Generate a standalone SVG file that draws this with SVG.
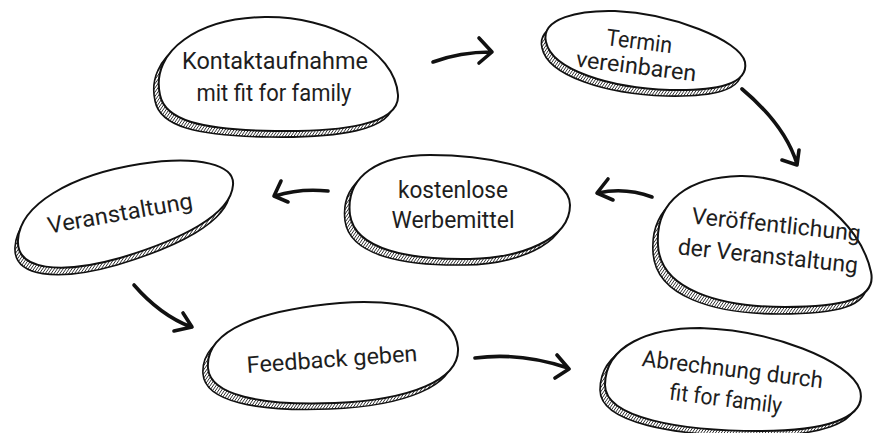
<svg xmlns="http://www.w3.org/2000/svg" width="877" height="433" viewBox="0 0 877 433">
<defs>
<pattern id="hatch" patternUnits="userSpaceOnUse" width="2.4" height="2.4" patternTransform="rotate(35)">
<rect width="2.4" height="2.4" fill="#fff"/>
<line x1="0" y1="0" x2="0" y2="2.4" stroke="#1c1c1c" stroke-width="1.5"/>
</pattern>
</defs>
<style>
.sh{fill:url(#hatch);stroke:#111;stroke-width:1.6}
.bd{fill:#fff;stroke:#111;stroke-width:2}
.t{font-family:Roboto,"Open Sans",sans-serif;font-size:23px;fill:#1e1e1e;text-anchor:middle}
.ar{fill:none;stroke:#111;stroke-width:3.6;stroke-linecap:round;stroke-linejoin:round}
</style>
<rect width="877" height="433" fill="#fff"/>

<g id="n1">
<path class="sh" transform="translate(-5,6)" d="M160,95 C150,50 200,18 265,17 C330,16 395,50 398,95 C400,125 340,132 275,131 C200,130 165,120 160,95 Z"/>
<path class="bd" d="M160,95 C150,50 200,18 265,17 C330,16 395,50 398,95 C400,125 340,132 275,131 C200,130 165,120 160,95 Z"/>
<text class="t" x="275" y="69" textLength="186" lengthAdjust="spacingAndGlyphs">Kontaktaufnahme</text>
<text class="t" x="274" y="101" textLength="155" lengthAdjust="spacingAndGlyphs">mit fit for family</text>
</g>

<g id="n2">
<path class="sh" transform="translate(-4,6)" d="M546,42 C540,18 580,10 615,11 C670,13 740,40 745,62 C749,85 715,91 670,90 C610,88 552,70 546,42 Z"/>
<path class="bd" d="M546,42 C540,18 580,10 615,11 C670,13 740,40 745,62 C749,85 715,91 670,90 C610,88 552,70 546,42 Z"/>
<g transform="rotate(7,637,60)">
<text class="t" x="637" y="49" textLength="66" lengthAdjust="spacingAndGlyphs">Termin</text>
<text class="t" x="637" y="74" textLength="121" lengthAdjust="spacingAndGlyphs">vereinbaren</text>
</g>
</g>

<g id="n3">
<path class="sh" transform="translate(-5,7)" d="M658,245 C655,200 690,177 740,176 C800,175 860,220 871,272 C877,300 840,307 785,307 C720,307 660,290 658,245 Z"/>
<path class="bd" d="M658,245 C655,200 690,177 740,176 C800,175 860,220 871,272 C877,300 840,307 785,307 C720,307 660,290 658,245 Z"/>
<g transform="rotate(6,772,246)">
<text class="t" x="774" y="232" textLength="170" lengthAdjust="spacingAndGlyphs">Veröffentlichung</text>
<text class="t" x="769" y="264" textLength="181" lengthAdjust="spacingAndGlyphs">der Veranstaltung</text>
</g>
</g>

<g id="n4">
<path class="sh" transform="translate(-5,6)" d="M350,215 C345,175 380,155 430,155 C500,155 570,175 570,205 C570,240 520,258 470,259 C410,260 355,250 350,215 Z"/>
<path class="bd" d="M350,215 C345,175 380,155 430,155 C500,155 570,175 570,205 C570,240 520,258 470,259 C410,260 355,250 350,215 Z"/>
<text class="t" x="453" y="198" textLength="110" lengthAdjust="spacingAndGlyphs">kostenlose</text>
<text class="t" x="453" y="228" textLength="123" lengthAdjust="spacingAndGlyphs">Werbemittel</text>
</g>

<g id="n5">
<path class="sh" transform="translate(-3,7)" d="M18,240 C20,205 70,175 140,164 C200,155 235,165 233,185 C231,215 180,240 120,258 C60,275 16,270 18,240 Z"/>
<path class="bd" d="M18,240 C20,205 70,175 140,164 C200,155 235,165 233,185 C231,215 180,240 120,258 C60,275 16,270 18,240 Z"/>
<text class="t" x="120" y="221" transform="rotate(-10,120,213)" textLength="147" lengthAdjust="spacingAndGlyphs">Veranstaltung</text>
</g>

<g id="n6">
<path class="sh" transform="translate(-5,6)" d="M208,368 C205,330 260,310 340,303 C410,298 455,315 458,348 C460,380 410,400 335,403 C260,406 210,395 208,368 Z"/>
<path class="bd" d="M208,368 C205,330 260,310 340,303 C410,298 455,315 458,348 C460,380 410,400 335,403 C260,406 210,395 208,368 Z"/>
<text class="t" x="332" y="367" transform="rotate(-4,332,360)" textLength="171" lengthAdjust="spacingAndGlyphs">Feedback geben</text>
</g>

<g id="n7">
<path class="sh" transform="translate(-5,5)" d="M605,385 C605,345 650,328 700,328 C770,330 850,360 860,390 C868,420 820,431 760,431 C680,431 605,418 605,385 Z"/>
<path class="bd" d="M605,385 C605,345 650,328 700,328 C770,330 850,360 860,390 C868,420 820,431 760,431 C680,431 605,418 605,385 Z"/>
<g transform="rotate(7,730,390)">
<text class="t" x="730" y="377" textLength="182" lengthAdjust="spacingAndGlyphs">Abrechnung durch</text>
<text class="t" x="727" y="407" textLength="113" lengthAdjust="spacingAndGlyphs">fit for family</text>
</g>
</g>

<g id="connectors">
<path class="ar" d="M433,62 Q460,52 491,52 M479,38 L492,52 L479,63"/>
<path class="ar" d="M742,89 Q785,125 797,164 M782,160 L797,165 L799,150"/>
<path class="ar" d="M652,197 Q625,187 598,193 M608,179 L597,193 L613,200"/>
<path class="ar" d="M328,191 Q300,188 275,196 M281,181 L274,196 L288,202"/>
<path class="ar" d="M134,285 Q160,315 191,327 M183,313 L192,327 L174,331"/>
<path class="ar" d="M475,358 Q520,352 568,368 M557,355 L569,369 L555,378"/>
</g>
</svg>
